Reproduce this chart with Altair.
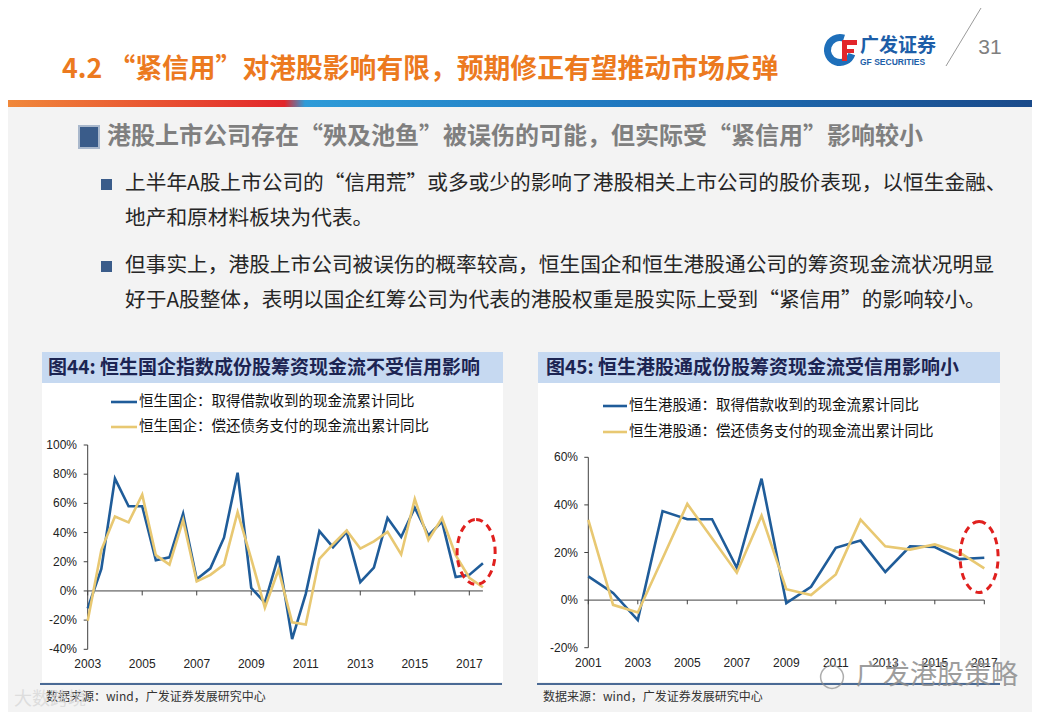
import altair as alt
import pandas as pd

# ---------------- data ----------------
left_years = [2003.0, 2003.5, 2004.0, 2004.5, 2005.0, 2005.5, 2006.0, 2006.5, 2007.0, 2007.5,
              2008.0, 2008.5, 2009.0, 2009.5, 2010.0, 2010.5, 2011.0, 2011.5, 2012.0, 2012.5,
              2013.0, 2013.5, 2014.0, 2014.5, 2015.0, 2015.5, 2016.0, 2016.5, 2017.0, 2017.5]
left_borrow = [-12, 15, 77, 58, 58, 21, 23, 53, 8, 15.5,
               36.5, 81, 2, -8, 24, -33, -2, 41, 30, 40.5,
               6, 16, 50, 37, 57, 38, 47.5, 9.5, 11, 19]
left_repay = [-20.5, 28, 51, 47, 66, 24.5, 18, 48.5, 6.5, 11,
              18, 54, 22, -11.5, 14.5, -21.5, -23, 22, 32, 41.5,
              29, 34, 40.5, 25, 63, 35, 50, 24.5, 9, 2.5]

right_years = [2001, 2002, 2003, 2004, 2005, 2006, 2007, 2008, 2009,
               2010, 2011, 2012, 2013, 2014, 2015, 2016, 2017]
right_borrow = [10, 3, -8.4, 37.4, 34, 34, 13.6, 51, -1.3,
                5.6, 22, 25, 11.8, 22.6, 22.3, 17.2, 17.8]
right_repay = [33.7, -2, -5.2, 17.5, 40.4, 26, 11.5, 35.5, 4.6,
               2.1, 10.8, 33.8, 22.6, 21.2, 23.4, 20, 13.3]

left_yticks = [100, 80, 60, 40, 20, 0, -20, -40]
left_xticks = [2003, 2005, 2007, 2009, 2011, 2013, 2015, 2017]
right_yticks = [60, 40, 20, 0, -20]
right_xticks = [2001, 2003, 2005, 2007, 2009, 2011, 2013, 2015, 2017]

left_series = ["恒生国企：取得借款收到的现金流累计同比", "恒生国企：偿还债务支付的现金流出累计同比"]
right_series = ["恒生港股通：取得借款收到的现金流累计同比", "恒生港股通：偿还债务支付的现金流出累计同比"]

title_text = "4.2 “紧信用”对港股影响有限，预期修正有望推动市场反弹"
heading_text = "港股上市公司存在“殃及池鱼”被误伤的可能，但实际受“紧信用”影响较小"
bullet1 = ["上半年A股上市公司的“信用荒”或多或少的影响了港股相关上市公司的股价表现，以恒生金融、",
           "地产和原材料板块为代表。"]
bullet2 = ["但事实上，港股上市公司被误伤的概率较高，恒生国企和恒生港股通公司的筹资现金流状况明显",
           "好于A股整体，表明以国企红筹公司为代表的港股权重是股实际上受到“紧信用”的影响较小。"]
fig_left = "图44: 恒生国企指数成份股筹资现金流不受信用影响"
fig_right = "图45: 恒生港股通成份股筹资现金流受信用影响小"
source_text = "数据来源：wind，广发证券发展研究中心"

# ---------------- styling helpers ----------------
CJK = "Noto Sans CJK SC"
LAT = "Liberation Sans"
BLUE = "#1F5C99"
GOLD = "#E8C872"
AXIS = "#404040"
one = pd.DataFrame({"k": [0]})


def S(v):
    return v - 8  # slide pixel -> view pixel (page margin)


def txt(s, x, y, size, color, weight="normal", align="left", font=CJK, opacity=1.0):
    return alt.Chart(one).mark_text(
        text=s, align=align, baseline="middle", fontSize=size, font=font,
        fontWeight=weight, color=color, opacity=opacity
    ).encode(x=alt.value(S(x)), y=alt.value(S(y)))


def box(x, y, x2, y2, fill, stroke=None, sw=0):
    kw = dict(color=fill)
    if stroke:
        kw.update(stroke=stroke, strokeWidth=sw)
    return alt.Chart(one).mark_rect(**kw).encode(
        x=alt.value(S(x)), x2=alt.value(S(x2)), y=alt.value(S(y)), y2=alt.value(S(y2)))


def seg(x, y, x2, y2, color, sw=1.0):
    return alt.Chart(one).mark_rule(color=color, strokeWidth=sw).encode(
        x=alt.value(S(x)), x2=alt.value(S(x2)), y=alt.value(S(y)), y2=alt.value(S(y2)))


layers = []

# ---------------- slide frame ----------------
layers.append(box(8, 8, 1032, 100, "#ffffff"))
grad = alt.Gradient(
    gradient="linear", x1=0, x2=1, y1=0, y2=0,
    stops=[alt.GradientStop(offset=0, color="#F0883A"),
           alt.GradientStop(offset=0.27, color="#E2262B"),
           alt.GradientStop(offset=0.29, color="#2E9BD8"),
           alt.GradientStop(offset=0.6, color="#1F77BF"),
           alt.GradientStop(offset=1, color="#1A4A8A")])
layers.append(alt.Chart(one).mark_rect(color=grad).encode(
    x=alt.value(0), x2=alt.value(1024), y=alt.value(S(100)), y2=alt.value(S(107))))

layers.append(txt(title_text, 62, 70, 26.8, "#EC7A1F", weight="bold"))

# logo
layers.append(alt.Chart(one).mark_arc(innerRadius=9, outerRadius=16, theta=1.9, theta2=6.6,
                                      color="#1E6FBA").encode(x=alt.value(S(840)), y=alt.value(S(50))))
layers.append(box(842, 40, 857, 45, "#E2262B"))
layers.append(box(842, 40, 847, 61, "#E2262B"))
layers.append(box(842, 49, 854, 53, "#E2262B"))
layers.append(txt("广发证券", 860, 46, 19, "#1D5EA8", weight="bold"))
layers.append(txt("GF SECURITIES", 860, 62, 8.5, "#1D5EA8", weight="bold", font=LAT))
layers.append(seg(981, 8, 946, 66, "#9a9a9a", 1))
layers.append(txt("31", 990, 48, 21, "#7f7f7f", font=LAT, align="center"))

# heading and bullets
layers.append(box(79, 126, 99, 148, "#3A5C8A", stroke="#A9B8CC", sw=2))
layers.append(txt(heading_text, 107, 137, 24, "#7f7f7f", weight="bold"))
layers.append(box(101, 179, 112, 190, "#3A5C8A"))
layers.append(txt(bullet1[0], 125, 184, 20.7, "#262626"))
layers.append(txt(bullet1[1], 125, 219, 20.7, "#262626"))
layers.append(box(101, 261, 112, 272, "#3A5C8A"))
layers.append(txt(bullet2[0], 125, 266, 20.7, "#262626"))
layers.append(txt(bullet2[1], 125, 301, 20.7, "#262626"))

# panels
layers.append(box(42, 352, 503, 383, "#C6D9F1"))
layers.append(box(42, 383, 503, 682, "#ffffff"))
layers.append(box(538, 352, 1000, 383, "#C6D9F1"))
layers.append(box(538, 383, 1000, 682, "#ffffff"))
layers.append(seg(40, 684, 502, 684, "#4A6A95", 2))
layers.append(seg(537, 684, 1000, 684, "#4A6A95", 2))
layers.append(txt(fig_left, 48, 368, 19, "#1C2452", weight="bold"))
layers.append(txt(fig_right, 546, 368, 19, "#1C2452", weight="bold"))
layers.append(txt(source_text, 46, 697, 12, "#333333"))
layers.append(txt(source_text, 543, 697, 12, "#333333"))

# ---------------- chart builder ----------------


def panel(years, s1, s2, names, xdom, xr, ydom, yr, yticks, xticks, xend,
          ylab_x, xlab_y, leg_x0, leg_x1, leg_y, ell):
    xs = alt.Scale(domain=xdom, range=[S(xr[0]), S(xr[1])], nice=False, zero=False)
    ys = alt.Scale(domain=ydom, range=[S(yr[0]), S(yr[1])], nice=False, zero=False)
    out = []
    # zero line
    z = pd.DataFrame({"x": [xdom[0]], "x2": [xend], "y": [0]})
    out.append(alt.Chart(z).mark_rule(color=AXIS, strokeWidth=1).encode(
        x=alt.X("x:Q", scale=xs, axis=None), x2="x2:Q", y=alt.Y("y:Q", scale=ys, axis=None)))
    # y axis line
    ya = pd.DataFrame({"y": [ydom[0]], "y2": [ydom[1]]})
    out.append(alt.Chart(ya).mark_rule(color=AXIS, strokeWidth=1).encode(
        x=alt.value(S(xr[0])), y=alt.Y("y:Q", scale=ys, axis=None), y2="y2:Q"))
    # y ticks + labels
    yt = pd.DataFrame({"v": yticks, "lab": [f"{v}%" for v in yticks]})
    out.append(alt.Chart(yt).mark_rule(color=AXIS, strokeWidth=1).encode(
        x=alt.value(S(xr[0]) - 4), x2=alt.value(S(xr[0])), y=alt.Y("v:Q", scale=ys, axis=None)))
    out.append(alt.Chart(yt).mark_text(align="right", baseline="middle", font=LAT, fontSize=12,
                                        color="#222222").encode(
        x=alt.value(S(ylab_x)), y=alt.Y("v:Q", scale=ys, axis=None), text="lab:N"))
    # x ticks + labels
    xt = pd.DataFrame({"v": xticks, "lab": [str(v) for v in xticks], "y0": 0,
                       "y1": -(ydom[1] - ydom[0]) * 0.022})
    out.append(alt.Chart(xt).mark_rule(color=AXIS, strokeWidth=1).encode(
        x=alt.X("v:Q", scale=xs, axis=None), y=alt.Y("y0:Q", scale=ys, axis=None), y2="y1:Q"))
    out.append(alt.Chart(xt).mark_text(align="center", baseline="middle", font=LAT, fontSize=12,
                                        color="#222222").encode(
        x=alt.X("v:Q", scale=xs, axis=None), y=alt.value(S(xlab_y)), text="lab:N"))
    # lines
    for vals, col in ((s1, BLUE), (s2, GOLD)):
        d = pd.DataFrame({"t": years, "v": vals})
        out.append(alt.Chart(d).mark_line(color=col, strokeWidth=2.6).encode(
            x=alt.X("t:Q", scale=xs, axis=None), y=alt.Y("v:Q", scale=ys, axis=None)))
    # legend
    for i, (nm, col) in enumerate(zip(names, (BLUE, GOLD))):
        yy = leg_y[i]
        out.append(seg(leg_x0, yy, leg_x1, yy, col, 2.6))
        out.append(txt(nm, leg_x1 + 2, yy, 14.5, "#111111"))
    # dashed ellipse annotation
    ex, ey, w, h = ell
    r = round(w / h, 3)
    path = f"M 0 -1 A {r} 1 0 1 1 0 1 A {r} 1 0 1 1 0 -1 Z"
    e = pd.DataFrame({"x": [ex], "y": [ey]})
    out.append(alt.Chart(e).mark_point(shape=path, size=h * h, filled=False, stroke="#E0201E",
                                        strokeWidth=3, strokeDash=[7, 5], opacity=1).encode(
        x=alt.X("x:Q", scale=xs, axis=None), y=alt.Y("y:Q", scale=ys, axis=None)))
    return out


layers += panel(left_years, left_borrow, left_repay, left_series,
                [2003, 2017], (87.7, 469.3), [-40, 100], (649.3, 445),
                left_yticks, left_xticks, 2017.5, 77, 664, 111, 137, (402, 427),
                (2017.25, 26.7, 38, 65))
layers += panel(right_years, right_borrow, right_repay, right_series,
                [2001, 2017], (588.3, 984.3), [-20, 60], (647.7, 457.3),
                right_yticks, right_xticks, 2017, 578, 663, 603, 627, (406, 432),
                (2016.79, 18.1, 38, 71))

# watermarks
layers.append(alt.Chart(one).mark_point(shape="circle", size=520, filled=False, stroke="#8c8c8c",
                                        strokeWidth=1.5).encode(x=alt.value(S(832)), y=alt.value(S(677))))
layers.append(txt("广发港股策略", 856, 676, 27, "#8c8c8c", opacity=0.85))
layers.append(txt("大数跨境", 14, 700, 18, "#d8d8d8", opacity=0.8))

chart = alt.layer(*layers).resolve_scale(x="independent", y="independent").properties(
    width=1024, height=704, padding=0, background="#F3F3F3",
    autosize=alt.AutoSizeParams(type="none")
).configure_view(stroke=None)

chart.save("out.html", embed_options={"renderer": "svg", "actions": False})
